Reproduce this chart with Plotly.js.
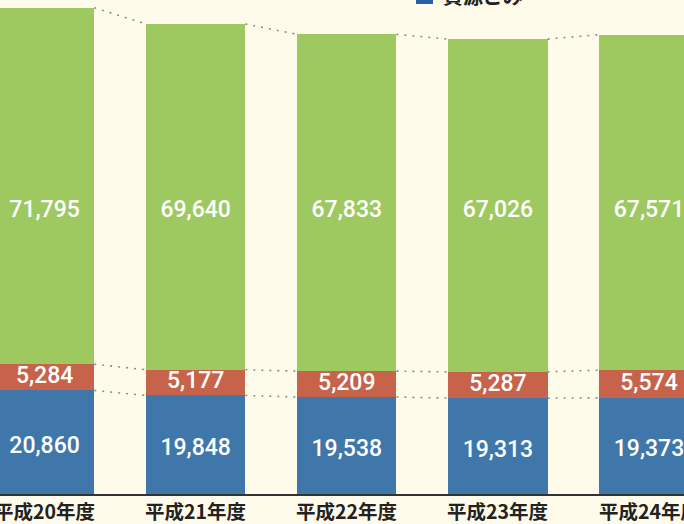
<!DOCTYPE html>
<html>
<head>
<meta charset="utf-8">
<script src="https://cdn.plot.ly/plotly-3.0.1.min.js"></script>
<style>
  html, body { margin: 0; padding: 0; background: #fffbea; }
  #chart { width: 684px; height: 524px; }
</style>
</head>
<body>
<div id="chart"></div>
<script>
// ---- data ----
const categories = ['平成20年度', '平成21年度', '平成22年度', '平成23年度', '平成24年度'];
const shigen = [20860, 19848, 19538, 19313, 19373];   // 資源ごみ (blue, bottom)
const funen  = [5284, 5177, 5209, 5287, 5574];        // 不燃ごみ (red, middle)
const kanen  = [71795, 69640, 67833, 67026, 67571];   // 可燃ごみ (green, top)
const seriesNames = ['資源ごみ', '不燃ごみ', '可燃ごみ'];

// ---- styling ----
const colors = { blue: '#4077aa', red: '#c8634b', green: '#9dc960' };
const bg = '#fffbea';
const barWidth = 0.657;
const greenLabelLevel = 57000;

const xs = categories.map((c, i) => i);
const fmt = v => v.toLocaleString('en-US');
const cum1 = shigen.slice();
const cum2 = shigen.map((v, i) => v + funen[i]);
const cum3 = cum2.map((v, i) => v + kanen[i]);

const traces = [];
traces.push({ type: 'bar', x: xs, y: shigen, name: seriesNames[0], marker: { color: colors.blue }, width: barWidth, hoverinfo: 'skip' });
traces.push({ type: 'bar', x: xs, y: funen, name: seriesNames[1], marker: { color: colors.red }, width: barWidth, hoverinfo: 'skip' });
traces.push({ type: 'bar', x: xs, y: kanen, name: seriesNames[2], marker: { color: colors.green }, width: barWidth, hoverinfo: 'skip' });

// dotted connectors
function connector(cum) {
  const cx = [], cy = [];
  for (let i = 0; i < cum.length - 1; i++) {
    cx.push(xs[i] + barWidth / 2, xs[i + 1] - barWidth / 2, null);
    cy.push(cum[i], cum[i + 1], null);
  }
  return { type: 'scatter', mode: 'lines', x: cx, y: cy, showlegend: false, hoverinfo: 'skip',
           line: { color: '#8c8c8c', width: 1.6, dash: '2px,6px' }, connectgaps: false };
}
traces.push(connector(cum1), connector(cum2), connector(cum3));

// labels
const labelFont = { family: 'Roboto, Liberation Sans, Arial, sans-serif', size: 23, color: '#ffffff', weight: 500 };
traces.push({ type: 'scatter', mode: 'text', x: xs, y: shigen.map(v => v * 0.45), text: shigen.map(fmt),
              textposition: 'middle center', textfont: labelFont, showlegend: false, hoverinfo: 'skip', cliponaxis: false });
traces.push({ type: 'scatter', mode: 'text', x: xs, y: funen.map((v, i) => cum1[i] + v / 2), text: funen.map(fmt),
              textposition: 'middle center', textfont: labelFont, showlegend: false, hoverinfo: 'skip', cliponaxis: false });
traces.push({ type: 'scatter', mode: 'text', x: xs, y: kanen.map(() => greenLabelLevel), text: kanen.map(fmt),
              textposition: 'middle center', textfont: labelFont, showlegend: false, hoverinfo: 'skip', cliponaxis: false });

const W = 684, H = 524, mb = 30;
const plotH = H - mb;
const px2x = p => p / W;
const py2y = p => 1 - p / plotH;

const tickFont = { family: 'Noto Sans CJK JP, sans-serif', size: 19.5, color: '#222', weight: 'bold' };
const tickAnnotations = categories.map((c, i) => ({
  xref: 'x', yref: 'paper', x: xs[i], y: py2y(510.5), xanchor: 'center', yanchor: 'middle',
  text: c, showarrow: false, font: tickFont
}));

const layout = {
  width: W, height: H,
  margin: { l: 0, r: 0, t: 0, b: mb, pad: 0 },
  paper_bgcolor: bg, plot_bgcolor: bg,
  barmode: 'stack',
  bargap: 0,
  showlegend: false,
  font: { family: 'Noto Sans CJK JP, sans-serif', color: '#222' },
  xaxis: {
    range: [-0.2952, 4.2316], tickvals: xs, showticklabels: false,
    showgrid: false, zeroline: false, showline: true, linecolor: '#333', linewidth: 1.5,
    ticks: '', automargin: false, fixedrange: true
  },
  yaxis: {
    range: [0, 99500], visible: false, showgrid: false, zeroline: false, automargin: false, fixedrange: true
  },
  shapes: [
    { type: 'rect', xref: 'paper', yref: 'paper', x0: px2x(416), x1: px2x(433), y0: py2y(4), y1: py2y(-13),
      fillcolor: '#2a5fa4', line: { width: 0 } }
  ],
  annotations: tickAnnotations.concat([
    { xref: 'paper', yref: 'paper', x: px2x(441), y: py2y(-5), xanchor: 'left', yanchor: 'middle',
      text: seriesNames[0], showarrow: false,
      font: { family: 'Noto Sans CJK JP, sans-serif', size: 20, color: '#222', weight: 'bold' } }
  ])
};

Plotly.newPlot('chart', traces, layout, { displayModeBar: false, staticPlot: true });
</script>
</body>
</html>
